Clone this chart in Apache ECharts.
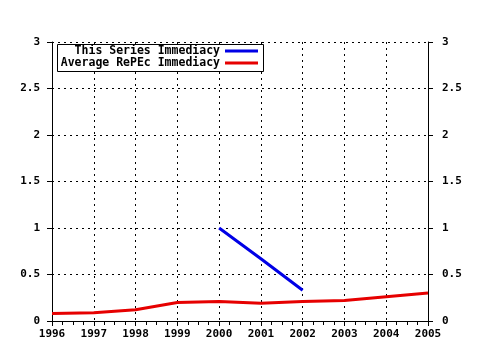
<!DOCTYPE html>
<html>
<head>
<meta charset="utf-8">
<script src="https://cdn.jsdelivr.net/npm/echarts@6/dist/echarts.min.js"></script>
<style>
  html, body { margin: 0; padding: 0; background: #fff; }
  #chart { width: 480px; height: 350px; }
</style>
</head>
<body>
<div id="chart"></div>
<script>
// data
const years = [1996, 1997, 1998, 1999, 2000, 2001, 2002, 2003, 2004, 2005]
const seriesImmediacy = [null, null, null, null, 1, 0.67, 0.33, null, null, null]
const averageImmediacy = [0.08, 0.09, 0.12, 0.2, 0.21, 0.19, 0.21, 0.22, 0.26, 0.3]
const seriesNames = ['This Series Immediacy', 'Average RePEc Immediacy']

const toPairs = (vals) => years.map((y, i) => [y, vals[i]]).filter(p => p[1] !== null)

const font = 'DejaVu Sans Mono'
const labelStyle = { color: '#000', fontFamily: font, fontWeight: 'bold', fontSize: 11 }
const dotted = { color: '#000', type: [2, 4], width: 1 }
const legendText = { color: '#000', fontFamily: font, fontWeight: 'bold', fontSize: 11.5, lineHeight: 12 }

const chart = echarts.init(document.getElementById('chart'))

const option = {
  animation: false,
  backgroundColor: '#fff',
  grid: { left: 52, right: 52, top: 42, bottom: 29 },
  legend: [
    {
      data: [seriesNames[0]],
      right: 222, top: 45, padding: 0,
      align: 'right',
      itemWidth: 33, itemHeight: 3,
      icon: 'rect',
      textStyle: legendText
    },
    {
      data: [seriesNames[1]],
      right: 222, top: 57, padding: 0,
      align: 'right',
      itemWidth: 33, itemHeight: 3,
      icon: 'rect',
      textStyle: legendText
    }
  ],
  graphic: [{
    type: 'rect',
    z: 3,
    shape: { x: 57.5, y: 44.5, width: 206, height: 27 },
    style: { fill: '#fff', stroke: '#000', lineWidth: 1 }
  }],
  xAxis: [
    {
      type: 'value',
      min: 1996, max: 2005, interval: 1,
      position: 'bottom',
      axisLine: { show: true, lineStyle: { color: '#000' } },
      axisTick: { show: true, inside: false, length: 5, lineStyle: { color: '#000' } },
      minorTick: { show: true, splitNumber: 4, length: 4, lineStyle: { color: '#000' } },
      axisLabel: { ...labelStyle, margin: 8, showMinLabel: true, showMaxLabel: true, formatter: v => String(v) },
      splitLine: { show: true, lineStyle: dotted }
    },
    {
      type: 'value',
      min: 1996, max: 2005, interval: 1,
      position: 'top',
      axisLine: { show: true, lineStyle: { color: '#000' } },
      axisTick: { show: true, inside: true, length: 5, lineStyle: { color: '#000' } },
      minorTick: { show: true, splitNumber: 4, length: 3, lineStyle: { color: '#000' } },
      axisLabel: { show: false },
      splitLine: { show: false }
    }
  ],
  yAxis: [
    {
      type: 'value',
      min: 0, max: 3, interval: 0.5,
      position: 'left',
      axisLine: { show: true, lineStyle: { color: '#000' } },
      axisTick: { show: true, inside: false, length: 5, lineStyle: { color: '#000' } },
      axisLabel: { ...labelStyle, margin: 12 },
      splitLine: { show: true, lineStyle: dotted }
    },
    {
      type: 'value',
      min: 0, max: 3, interval: 0.5,
      position: 'right',
      axisLine: { show: true, lineStyle: { color: '#000' } },
      axisTick: { show: true, inside: false, length: 5, lineStyle: { color: '#000' } },
      axisLabel: { ...labelStyle, margin: 14 },
      splitLine: { show: false }
    }
  ],
  series: [
    {
      name: seriesNames[0],
      type: 'line',
      data: toPairs(seriesImmediacy),
      showSymbol: false,
      color: '#0000e6',
      lineStyle: { width: 3, color: '#0000e6' },
      z: 5
    },
    {
      name: seriesNames[1],
      type: 'line',
      data: toPairs(averageImmediacy),
      showSymbol: false,
      color: '#e60000',
      lineStyle: { width: 3, color: '#e60000' },
      z: 5
    }
  ]
}

chart.setOption(option)
</script>
</body>
</html>
